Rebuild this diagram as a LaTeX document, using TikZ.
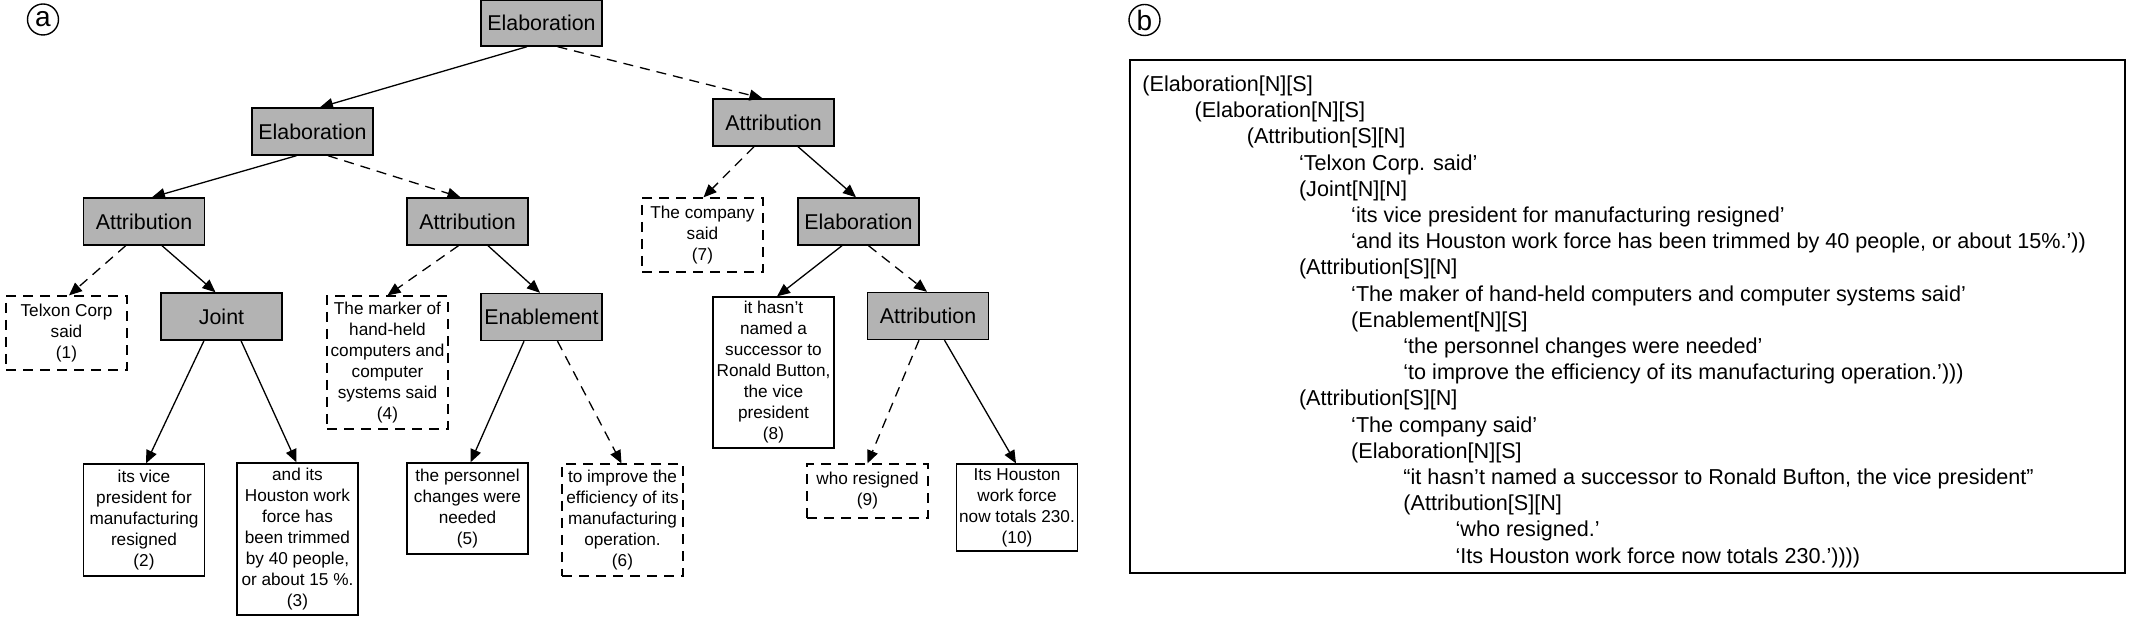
\documentclass[tikz,border=0pt]{standalone}
\usepackage{fontspec}
\setmainfont{Liberation Sans}
\usetikzlibrary{arrows.meta,calc}
\definecolor{relgray}{RGB}{179,179,179}
\begin{document}
\begin{tikzpicture}[x=0.5pt,y=-0.5pt,
  rel/.style={draw, line width=0.7pt, fill=relgray, minimum width=60.5pt, minimum height=23.5pt, inner sep=0pt, font=\fontsize{10.7}{12}\selectfont},
  leaf/.style={draw, line width=0.6pt, fill=white, minimum width=60.5pt, inner sep=0pt, align=center, font=\fontsize{8.6}{10.5}\selectfont},
  dleaf/.style={leaf, dash pattern=on 5pt off 3.5pt},
  sat/.style={-{Triangle[length=6.5pt,width=5.5pt]}, line width=0.65pt},
  dsat/.style={sat, dash pattern=on 5pt off 3.5pt},
  tline/.style={anchor=base west, inner sep=0pt, font=\fontsize{10.8}{13}\selectfont},
  panel/.style={circle, draw, line width=0.7pt, minimum size=15.5pt, inner sep=0pt, font=\fontsize{14}{14}\selectfont}
]
\useasboundingbox (0,0) rectangle (2136,619);

% panel labels
\node[panel] (pa) at (43,19.5) {a};
\node[panel] (pb) at (1144.5,20) {b};

% relation nodes
\node[rel, minimum height=23pt] (top) at (541.5,23) {Elaboration};
\node[rel] (e2) at (312.5,131.5) {Elaboration};
\node[rel] (aL) at (144,221.5) {Attribution};
\node[rel] (aM) at (467.5,221.5) {Attribution};
\node[rel] (aR) at (773.5,122.5) {Attribution};
\node[rel] (eR) at (858.5,221.5) {Elaboration};
\node[rel] (joint) at (221.5,316.5) {Joint};
\node[rel] (enab) at (541.5,317) {Enablement};
\node[rel] (aR4) at (928,316) {Attribution};

% leaves
\node[dleaf, minimum height=37pt] (l1) at (66.5,333) {Telxon Corp\\said\\(1)};
\node[dleaf, minimum height=66.5pt] (l4) at (387.5,362.5) {The marker of\\hand-held\\computers and\\computer\\systems said\\(4)};
\node[leaf, minimum height=56pt] (l2) at (144,520) {its vice\\president for\\manufacturing\\resigned\\(2)};
\node[leaf, minimum height=76pt] (l3) at (297.5,539) {and its\\Houston work\\force has\\been trimmed\\by 40 people,\\or about 15 \%.\\(3)};
\node[leaf, minimum height=45.5pt] (l5) at (467.5,508.5) {the personnel\\changes were\\needed\\(5)};
\node[dleaf, minimum height=56pt] (l6) at (622.5,520) {to improve the\\efficiency of its\\manufacturing\\operation.\\(6)};
\node[dleaf, minimum height=37pt] (l7) at (702.5,235) {The company\\said\\(7)};
\node[leaf, minimum height=75.5pt] (l8) at (773.5,372.5) {it hasn’t\\named a\\successor to\\Ronald Button,\\the vice\\president\\(8)};
\node[dleaf, minimum height=27pt] (l9) at (867.5,491) {who resigned\\(9)};
\node[leaf, minimum height=43.5pt] (l10) at (1017,507.5) {Its Houston\\work force\\now totals 230.\\(10)};

% edges
\draw[sat]  ($(top.south)+(-14.5,0)$) -- ($(e2.north)+(7.5,0)$);
\draw[dsat] ($(top.south)+(16,0)$) -- ($(aR.north)+(-11,0)$);
\draw[sat]  ($(e2.south)+(-16,0)$) -- ($(aL.north)+(8,0)$);
\draw[dsat] ($(e2.south)+(15.5,0)$) -- ($(aM.north)+(-7,0)$);
\draw[dsat] ($(aL.south)+(-18.3,0)$) -- ($(l1.north)+(2.5,0)$);
\draw[sat]  ($(aL.south)+(18,0)$) -- ($(joint.north)+(-6,0)$);
\draw[dsat] ($(aM.south)+(-9,0)$) -- ($(l4.north)+(0,0)$);
\draw[sat]  ($(aM.south)+(20.5,0)$) -- ($(enab.north)+(-1.5,0)$);
\draw[sat]  ($(joint.south)+(-17.5,0)$) -- ($(l2.north)+(2,0)$);
\draw[sat]  ($(joint.south)+(19.5,0)$) -- ($(l3.north)+(-1,0)$);
\draw[sat]  ($(enab.south)+(-17.5,0)$) -- ($(l5.north)+(3,0)$);
\draw[dsat] ($(enab.south)+(16,0)$) -- ($(l6.north)+(-1,0)$);
\draw[dsat] ($(aR.south)+(-19.5,0)$) -- ($(l7.north)+(1,0)$);
\draw[sat]  ($(aR.south)+(24.5,0)$) -- ($(eR.north)+(-2.5,0)$);
\draw[sat]  ($(eR.south)+(-16.5,0)$) -- ($(l8.north)+(3.5,0)$);
\draw[dsat] ($(eR.south)+(10,0)$) -- ($(aR4.north)+(-1,0)$);
\draw[dsat] ($(aR4.south)+(-9,0)$) -- ($(l9.north)+(0,0)$);
\draw[sat]  ($(aR4.south)+(16.5,0)$) -- ($(l10.north)+(-1,0)$);

% panel b
\draw[line width=0.8pt] (1130,60) rectangle (2125,573);
\node[tline] (b1)  at (1142,91.5)    {(Elaboration[N][S]};
\node[tline] (b2)  at (1194.2,117.7) {(Elaboration[N][S]};
\node[tline] (b3)  at (1246.4,143.9) {(Attribution[S][N]};
\node[tline] (b4)  at (1298.6,170.1) {‘Telxon Corp. said’};
\node[tline] (b5)  at (1298.6,196.3) {(Joint[N][N]};
\node[tline] (b6)  at (1350.8,222.5) {‘its vice president for manufacturing resigned’};
\node[tline] (b7)  at (1350.8,248.7) {‘and its Houston work force has been trimmed by 40 people, or about 15\%.’))};
\node[tline] (b8)  at (1298.6,274.9) {(Attribution[S][N]};
\node[tline] (b9)  at (1350.8,301.1) {‘The maker of hand-held computers and computer systems said’};
\node[tline] (b10) at (1350.8,327.3) {(Enablement[N][S]};
\node[tline] (b11) at (1403,353.5)   {‘the personnel changes were needed’};
\node[tline] (b12) at (1403,379.7)   {‘to improve the efficiency of its manufacturing operation.’)))};
\node[tline] (b13) at (1298.6,405.9) {(Attribution[S][N]};
\node[tline] (b14) at (1350.8,432.1) {‘The company said’};
\node[tline] (b15) at (1350.8,458.3) {(Elaboration[N][S]};
\node[tline] (b16) at (1403,484.5)   {“it hasn’t named a successor to Ronald Bufton, the vice president”};
\node[tline] (b17) at (1403,510.7)   {(Attribution[S][N]};
\node[tline] (b18) at (1455.2,536.9) {‘who resigned.’};
\node[tline] (b19) at (1455.2,563.1) {‘Its Houston work force now totals 230.’))))};
\end{tikzpicture}
\end{document}
